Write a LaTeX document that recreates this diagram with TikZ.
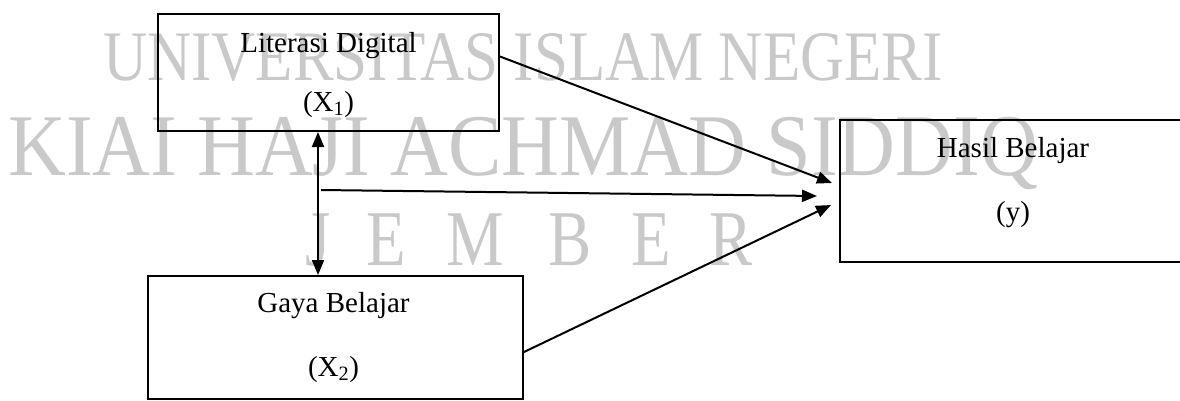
\documentclass[tikz,border=0pt]{standalone}
\usepackage{fontspec}
\setmainfont{Liberation Serif}
\usetikzlibrary{arrows.meta,positioning}

\begin{document}
\begin{tikzpicture}[
  x=1pt,y=-1pt,
  font=\fontsize{29}{35}\selectfont,
  var/.style={draw,line width=2pt,inner sep=0pt},
  txt/.style={anchor=base,inner sep=0pt},
  wmark/.style={text=black!21,inner sep=0pt,anchor=base west},
  link/.style={-{Triangle[length=15pt,width=12pt]},line width=2pt},
  both/.style={{Triangle[length=15pt,width=12pt]}-{Triangle[length=15pt,width=12pt]},line width=2pt},
]
\useasboundingbox (0,0) rectangle (1180,400);
\clip (0,0) rectangle (1180,400);

% watermark (behind)
\node[wmark,font=\fontsize{71}{71}\selectfont] (wm1) at (103,80) {\scalebox{0.86}[1]{UNIVERSITAS ISLAM NEGERI}};
\node[wmark,font=\fontsize{88}{88}\selectfont] (wm2) at (8,175) {\scalebox{0.91}[1]{KIAI HAJI ACHMAD SIDDIQ}};
\foreach \ch/\px [count=\i] in {J/305,E/366,M/446,B/548,E/631,R/709}
  \node[wmark,font=\fontsize{79}{79}\selectfont] (wm3-\i) at (\px,265) {\scalebox{0.82}[1]{\ch}};

% variables
\node[var,minimum width=341pt,minimum height=117pt] (x1) at (328.5,72.5) {};
\node[var,minimum width=375pt,minimum height=123pt] (x2) at (335.5,337.5) {};
\node[var,minimum width=346pt,minimum height=142pt] (y) at (1013,191) {};

\node[txt] (x1-name) at ([yshift=-39pt]x1.north) {Literasi Digital};
\node[txt] (x1-sym) at ([yshift=-98pt]x1.north) {(X\textsubscript{1})};
\node[txt] (x2-name) at ([xshift=-2pt,yshift=-37pt]x2.north) {Gaya Belajar};
\node[txt] (x2-sym) at ([xshift=-2pt,yshift=-101pt]x2.north) {(X\textsubscript{2})};
\node[txt] (y-name) at ([yshift=-38pt]y.north) {Hasil Belajar};
\node[txt] (y-sym) at ([yshift=-102pt]y.north) {(y)};

% connectors
\coordinate (corr) at (318,190);
\draw[both] (x1.south -| corr) -- (x2.north -| corr);
\draw[link] ([yshift=16pt]x1.east) -- ([xshift=-7pt,yshift=8pt]y.west);
\draw[link] ([xshift=3pt]corr) -- ([xshift=-22pt,yshift=-5pt]y.west);
\draw[link] ([yshift=-14.5pt]x2.east) -- ([xshift=-8pt,yshift=-14pt]y.west);
\end{tikzpicture}
\end{document}
